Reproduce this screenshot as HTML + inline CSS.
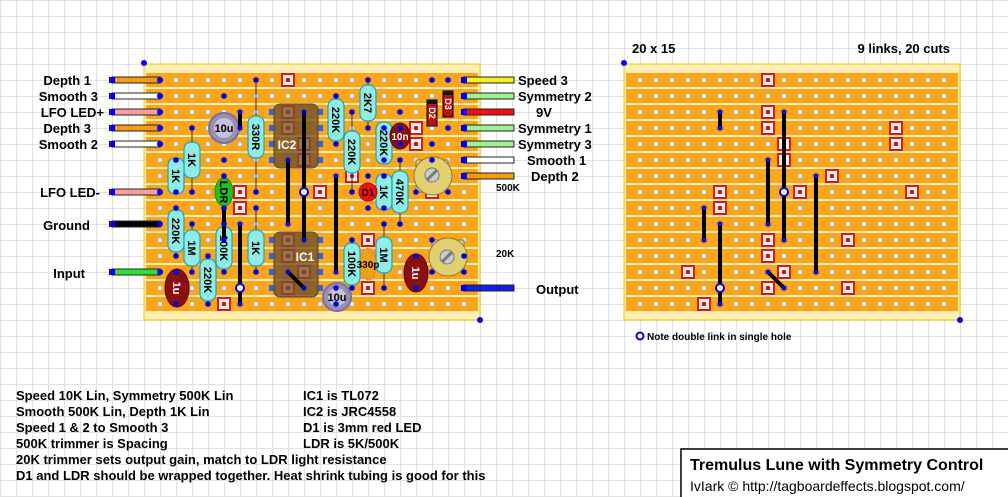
<!DOCTYPE html>
<html><head><meta charset="utf-8"><style>
html,body{margin:0;padding:0;background:#fff}
svg{display:block}
text{font-family:"Liberation Sans",sans-serif}
.lbl{font-weight:bold;font-size:13px;fill:#000}
.rt{font-weight:bold;font-size:11px;fill:#000}
</style></head><body>
<svg id="s" width="1008" height="497" viewBox="0 0 1008 497" xmlns="http://www.w3.org/2000/svg">
<g id="grid"></g>
<g id="boards"></g>
<g id="comp">
<circle cx="224" cy="128" r="15" fill="#9a8fb0" stroke="#7a70a0" stroke-width="2"/>
<circle cx="224" cy="128" r="10" fill="#c8c0dc"/>
<text x="224" y="132" text-anchor="middle" class="rt">10u</text>
<ellipse cx="224" cy="192" rx="9" ry="14" fill="#20c020" stroke="#109010"/>
<text transform="translate(220,192) rotate(90)" text-anchor="middle" class="rt">LDR</text>
<g id="res"></g>
<ellipse cx="177" cy="288" rx="12" ry="19" fill="#8a1010" stroke="#600"/>
<text transform="translate(173,288) rotate(90)" text-anchor="middle" class="rt" style="fill:#fff">1u</text>
<rect x="274" y="104" width="44" height="64" rx="6" fill="rgba(110,80,40,0.78)" stroke="#5a4020"/>
<text x="287" y="149" text-anchor="middle" class="rt" style="fill:#fff;font-size:12px">IC2</text>
<rect x="274" y="232" width="44" height="65" rx="6" fill="rgba(110,80,40,0.78)" stroke="#5a4020"/>
<text x="305" y="261" text-anchor="middle" class="rt" style="fill:#fff;font-size:12px">IC1</text>
<ellipse cx="400" cy="136" rx="10" ry="13" fill="#8a1010" stroke="#600"/>
<text x="400" y="140" text-anchor="middle" class="rt" style="fill:#fff;font-size:10px">10n</text>
<rect x="427" y="100" width="10" height="26" fill="#c01010" stroke="#000"/><rect x="427" y="100" width="10" height="4" fill="#111"/>
<text transform="translate(429,113) rotate(90)" text-anchor="middle" class="rt" style="fill:#fff;font-size:9px">D2</text>
<rect x="443" y="91" width="10" height="26" fill="#c01010" stroke="#000"/><rect x="443" y="91" width="10" height="4" fill="#111"/>
<text transform="translate(445,104) rotate(90)" text-anchor="middle" class="rt" style="fill:#fff;font-size:9px">D3</text>
<circle cx="368" cy="192" r="9" fill="#ee1010" stroke="#b00"/>
<text x="368" y="196" text-anchor="middle" class="rt" style="font-size:10px">D1</text>
<ellipse cx="368" cy="264" rx="8" ry="16" fill="#f0a020" stroke="#c08010" stroke-dasharray="2 2"/>
<text x="368" y="268" text-anchor="middle" class="rt" style="font-size:10px">330p</text>
<ellipse cx="416" cy="273" rx="12" ry="19" fill="#8a1010" stroke="#600"/>
<text transform="translate(412,273) rotate(90)" text-anchor="middle" class="rt" style="fill:#fff">1u</text>
<circle cx="337" cy="297" r="14" fill="#9a8fb0" stroke="#7a70a0" stroke-width="2"/>
<circle cx="337" cy="297" r="9" fill="#c8c0dc"/>
<text x="337" y="301" text-anchor="middle" class="rt">10u</text>
<rect x="416" y="160" width="32" height="32" fill="#e0d070" stroke="#8a7a30"/>
<circle cx="433" cy="176" r="19" fill="#e0d070" stroke="#8a7a30"/>
<circle cx="432" cy="175" r="7" fill="#ccc" stroke="#777"/><line x1="427" y1="180" x2="437" y2="170" stroke="#777" stroke-width="3"/>
<rect x="432" y="240" width="32" height="32" fill="#e0d070" stroke="#8a7a30"/>
<circle cx="448" cy="257" r="19" fill="#e0d070" stroke="#8a7a30"/>
<circle cx="447" cy="257" r="7" fill="#ccc" stroke="#777"/><line x1="442" y1="262" x2="452" y2="252" stroke="#777" stroke-width="3"/>
</g>
<g id="topg"></g>
<g class="lbl" text-anchor="end">
<text x="91" y="85">Depth 1</text><text x="98" y="101">Smooth 3</text><text x="104" y="117">LFO LED+</text>
<text x="91" y="133">Depth 3</text><text x="98" y="149">Smooth 2</text><text x="100" y="197">LFO LED-</text>
<text x="90" y="230">Ground</text><text x="85" y="278">Input</text>
</g>
<g class="lbl">
<text x="518" y="85">Speed 3</text><text x="518" y="101">Symmetry 2</text><text x="536" y="117">9V</text>
<text x="518" y="133">Symmetry 1</text><text x="518" y="149">Symmetry 3</text><text x="527" y="165">Smooth 1</text>
<text x="531" y="181">Depth 2</text><text x="536" y="294">Output</text>
<text x="496" y="191" style="font-size:10px">500K</text><text x="496" y="257" style="font-size:10px">20K</text>
<text x="632" y="53">20 x 15</text><text x="950" y="53" text-anchor="end">9 links, 20 cuts</text>
</g>
<circle cx="640" cy="336" r="3.5" fill="#fff" stroke="#00f" stroke-width="2"/>
<text x="647" y="340" style="font-size:10px;font-weight:bold">Note double link in single hole</text>
<g class="lbl">
<text x="16" y="400">Speed 10K Lin, Symmetry 500K Lin</text>
<text x="16" y="416">Smooth 500K Lin, Depth 1K Lin</text>
<text x="16" y="432">Speed 1 &amp; 2 to Smooth 3</text>
<text x="16" y="448">500K trimmer is Spacing</text>
<text x="16" y="464">20K trimmer sets output gain, match to LDR light resistance</text>
<text x="16" y="480">D1 and LDR should be wrapped together. Heat shrink tubing is good for this</text>
<text x="303" y="400">IC1 is TL072</text><text x="303" y="416">IC2 is JRC4558</text>
<text x="303" y="432">D1 is 3mm red LED</text><text x="303" y="448">LDR is 5K/500K</text>
</g>
<rect x="681" y="449" width="340" height="60" fill="#fff" stroke="#000" stroke-width="1.5"/>
<text x="690" y="470" style="font-size:16px;font-weight:bold">Tremulus Lune with Symmetry Control</text>
<text x="690" y="491" style="font-size:14px">IvIark © http://tagboardeffects.blogspot.com/</text>
</svg>
<script>
(function(){
var NS="http://www.w3.org/2000/svg";
function el(p,t,a){var e=document.createElementNS(NS,t);for(var k in a)e.setAttribute(k,a[k]);p.appendChild(e);return e;}
var g=document.getElementById("grid");
for(var x=0;x<=1008;x+=16)el(g,"line",{x1:x+.5,y1:0,x2:x+.5,y2:497,stroke:"#e2e2e2"});
for(var y=0;y<=497;y+=16)el(g,"line",{x1:0,y1:y+.5,x2:1008,y2:y+.5,stroke:"#e2e2e2"});
var b=document.getElementById("boards");
function X(c){return 160+16*c}function Y(r){return 80+16*r}
var cuts=[[8,0],[8,2],[8,3],[16,3],[9,4],[16,4],[9,5],[12,6],[5,7],[10,7],[17,7],[5,8],[8,10],[13,10],[8,11],[3,12],[9,12],[8,13],[13,13],[4,14]];
var links=[[5,2,5,3],[9,2,9,10],[8,5,8,9],[11,6,11,12],[4,8,4,10],[5,9,5,14],[8,12,9,13]];
var tg=document.getElementById("topg");
[0,480].forEach(function(o){
 el(b,"rect",{x:144+o,y:64,width:336,height:256,fill:"#fdeeb4",stroke:"#f0c800"});
 for(var r=0;r<15;r++)el(b,"rect",{x:146+o,y:Y(r)-7,width:332,height:14,fill:"#f9a61c"});
 for(var r=0;r<15;r++)for(var c=0;c<20;c++)el(b,"circle",{cx:X(c)+o,cy:Y(r),r:2.3,fill:"#fff",stroke:"#aaa","stroke-width":.8});
 cuts.forEach(function(q){var cx=X(q[0])+o,cy=Y(q[1]);el(b,"rect",{x:cx-6,y:cy-6,width:12,height:12,fill:"#fff",stroke:"#f01010","stroke-width":2});el(b,"circle",{cx:cx,cy:cy,r:2.3,fill:"#e00"});});
 links.forEach(function(l){var t=o?b:tg;el(t,"line",{x1:X(l[0])+o,y1:Y(l[1]),x2:X(l[2])+o,y2:Y(l[3]),stroke:"#000","stroke-width":4});
  el(t,"circle",{cx:X(l[0])+o,cy:Y(l[1]),r:2.6,fill:"#0000e0"});el(t,"circle",{cx:X(l[2])+o,cy:Y(l[3]),r:2.6,fill:"#0000e0"});});
 [[9,7],[5,13]].forEach(function(q){el(o?b:tg,"circle",{cx:X(q[0])+o,cy:Y(q[1]),r:4,fill:"#fff",stroke:"#00f","stroke-width":2});});
 el(b,"circle",{cx:144+o,cy:63,r:3,fill:"#00f"});el(b,"circle",{cx:480+o,cy:320,r:3,fill:"#00f"});
});
[[2,5],[10,13]].forEach(function(p){for(var r=p[0];r<=p[1];r++){el(b,"rect",{x:269,y:Y(r)-3,width:6,height:6,fill:"#3060f0"});el(b,"rect",{x:317,y:Y(r)-3,width:6,height:6,fill:"#3060f0"});}});
var wl=[[0,"#f89a10"],[1,"#fff"],[2,"#f8a0a0"],[3,"#f89a10"],[4,"#fff"],[7,"#f8a0a0"],[9,"#000"],[12,"#30e030"]];
wl.forEach(function(w){el(b,"rect",{x:112,y:Y(w[0])-3,width:48,height:6,fill:w[1],stroke:"#222"});el(b,"rect",{x:109,y:Y(w[0])-3,width:6,height:6,fill:"#00f"});el(b,"circle",{cx:160,cy:Y(w[0]),r:3,fill:"#00f"});});
var wr=[[0,"#f8f020"],[1,"#a0f090"],[2,"#f01010"],[3,"#a0f090"],[4,"#a0f090"],[5,"#fff"],[6,"#f89a10"],[13,"#1020e0"]];
wr.forEach(function(w){el(b,"rect",{x:464,y:Y(w[0])-3,width:50,height:6,fill:w[1],stroke:"#222"});el(b,"rect",{x:461,y:Y(w[0])-3,width:6,height:6,fill:"#00f"});});
var res=[[2,3,7,160,"1K"],[1,5,7,176,"1K"],[6,0,7,137,"330R"],[1,8,11,231,"220K"],[2,9,12,248,"1M"],[4,9,12,248,"100K"],[6,8,12,248,"1K"],[3,11,14,280,"220K"],[11,1,4,120,"220K"],[13,0,3,103,"2K7"],[12,2,7,152,"220K"],[14,3,5,143,"220K"],[14,6,8,192,"1K"],[15,5,9,192,"470K"],[12,10,13,264,"100K"],[14,9,13,255,"1M"]];
var rg=document.getElementById("res");
res.forEach(function(q){var x=X(q[0]);var h=q[4].length>=4?42:36;
 el(rg,"line",{x1:x,y1:Y(q[1]),x2:x,y2:Y(q[2]),stroke:"#333","stroke-width":1});
 el(rg,"rect",{x:x-8,y:q[3]-h/2,width:16,height:h,rx:7,fill:"#90ece6",stroke:"#28a0a0","stroke-width":1.2});
 var t=el(rg,"text",{transform:"translate("+(x-4)+","+q[3]+") rotate(90)","text-anchor":"middle","class":"rt"});t.textContent=q[4];
 el(tg,"circle",{cx:x,cy:Y(q[1]),r:2.8,fill:"#0000e0"});el(tg,"circle",{cx:x,cy:Y(q[2]),r:2.8,fill:"#0000e0"});});
[[4,1],[4,5],[4,6],[4,8],[1,12],[1,14],[15,3],[15,4],[17,0],[17,4],[18,0],[18,3],[13,6],[13,8],[16,11],[16,13],[11,13],[11,14],[15,2],[16,7],[18,7],[17,5],[17,10],[19,11],[17,12],[19,12]].forEach(function(p){el(tg,"circle",{cx:X(p[0]),cy:Y(p[1]),r:2.8,fill:"#0000e0"});});
})();
</script>
</body></html>
